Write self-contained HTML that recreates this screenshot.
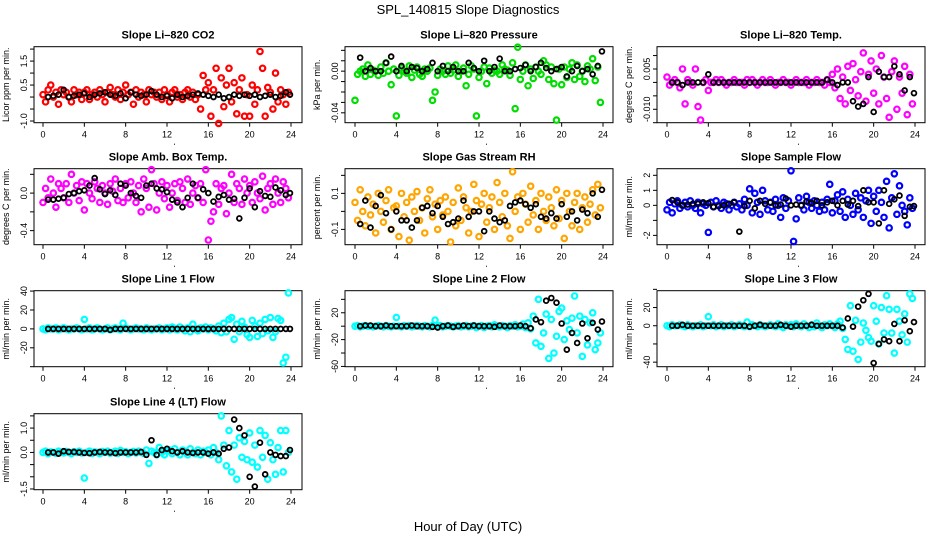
<!DOCTYPE html>
<html><head><meta charset="utf-8"><style>
body{margin:0;background:#fff;}
svg text{font-family:"Liberation Sans",sans-serif;fill:#000;}
</style></head><body>
<svg id="chart" width="936" height="540" viewBox="0 0 936 540" xmlns="http://www.w3.org/2000/svg">
<text x="468" y="14" text-anchor="middle" font-size="13">SPL_140815  Slope Diagnostics</text>
<text x="468" y="531" text-anchor="middle" font-size="13">Hour of Day (UTC)</text>
</svg>
<script>
const colHours=[0,0.25,0.5,0.75,1,1.25,1.5,1.75,2,2.25,2.5,2.75,3,3.25,3.5,3.75,4,4.25,4.5,4.75,5,5.25,5.5,5.75,6,6.25,6.5,6.75,7,7.25,7.5,7.75,8,8.25,8.5,8.75,9,9.25,9.5,9.75,10,10.25,10.5,10.75,11,11.25,11.5,11.75,12,12.25,12.5,12.75,13,13.25,13.5,13.75,14,14.25,14.5,14.75,15,15.25,15.5,15.75,16,16.25,16.5,16.75,17,17.25,17.5,17.75,18,18.25,18.5,18.75,19,19.25,19.5,19.75,20,20.25,20.5,20.75,21,21.25,21.5,21.75,22,22.25,22.5,22.75,23,23.25,23.5,23.75];
const blkHours=[0.5,1,1.5,2,2.5,3,3.5,4,4.5,5,5.5,6,6.5,7,7.5,8,8.5,9,9.5,10,10.5,11,11.5,12,12.5,13,13.5,14,14.5,15,15.5,16,16.5,17,17.5,18,18.5,19,19.5,20,20.5,21,21.5,22,22.5,23,23.5,23.9];
const xTicks=[0,4,8,12,16,20,24];

const co2Col=[0.1,-0.2,0.3,0.5,0.0,0.2,-0.3,0.3,0.1,0.2,0.0,-0.2,0.3,0.1,0.2,-0.1,0.2,0.3,-0.1,0.1,0.2,0.0,0.3,0.1,-0.2,0.2,0.4,0.1,0.0,0.3,-0.1,0.2,0.5,0.1,0.2,-0.3,0.3,0.0,0.2,0.1,-0.2,0.3,0.1,0.2,0.0,0.2,-0.1,0.3,0.1,-0.2,0.2,0.3,0.0,0.1,-0.1,0.2,0.3,0.0,0.2,-0.1,0.1,-0.5,0.9,0.3,0.6,-0.8,0.3,1.2,-1.1,0.8,-0.4,0.5,1.2,-0.2,0.6,-0.7,0.3,0.8,-0.8,0.1,-0.8,0.5,-0.3,0.3,1.9,1.2,-0.8,0.4,0.2,-0.5,1.0,-0.2,0.3,0.1,-0.3,0.2];
const co2Blk=[0.0,0.05,0.1,0.3,0.0,0.05,0.1,0.15,0.0,0.1,0.15,0.2,0.1,0.05,0.15,-0.05,0.2,0.1,0.05,0.1,0.25,0.1,0.0,0.05,-0.05,0.1,0.0,0.05,0.1,0.15,0.1,0.05,0.0,0.1,-0.05,0.0,0.1,0.05,0.1,0.05,0.1,0.0,0.05,0.1,0.0,0.05,0.2,0.1];
const presCol=[-0.028,-0.003,0.0,0.002,-0.005,0.006,-0.003,0.001,0.0,-0.004,0.004,-0.002,0.008,0.0,-0.013,0.002,-0.043,-0.004,0.003,0.0,-0.002,0.005,-0.006,0.001,0.004,-0.003,-0.005,0.002,0.0,0.003,-0.028,-0.020,-0.004,0.002,0.0,-0.003,0.005,-0.002,0.001,0.006,-0.005,0.0,0.003,-0.014,-0.003,0.005,0.002,-0.043,-0.006,0.0,0.004,-0.012,0.003,-0.002,0.001,0.0,-0.003,0.006,0.002,0.001,-0.004,0.008,-0.036,0.023,-0.008,0.0,0.006,-0.014,0.002,-0.007,0.004,0.0,-0.003,0.010,0.006,-0.008,0.004,-0.012,-0.047,0.002,-0.013,0.004,-0.006,0.002,0.008,-0.008,0.006,-0.005,0.0,-0.010,0.005,0.002,0.012,-0.009,0.004,-0.030];
const presBlk=[0.013,0.0,0.003,0.0,0.0,0.008,0.014,0.0,0.005,0.0,0.004,0.003,0.0,0.002,0.008,0.0,0.005,0.0,0.004,0.0,0.0,0.008,0.003,0.0,0.01,0.0,0.004,0.012,0.0,0.0,0.002,0.003,0.006,0.0,0.004,0.008,0.003,0.0,0.002,0.004,-0.005,0.0,0.005,0.0,0.002,-0.003,0.005,0.019];
const tempCol=[0.002,-0.001,0.000,0.001,0.000,-0.002,0.005,-0.008,0.001,0.000,-0.001,0.005,-0.009,-0.014,0.000,0.001,-0.003,0.000,0.000,0.001,0.000,0.001,0.000,-0.001,0.000,0.000,0.001,0.000,0.000,0.000,-0.001,0.001,0.000,0.001,0.000,-0.001,0.000,0.001,0.000,0.000,0.001,0.000,-0.001,0.000,0.000,0.001,0.000,0.000,-0.001,0.000,0.001,0.000,0.000,0.000,0.001,-0.001,0.000,0.000,0.001,0.000,0.000,-0.001,0.001,0.000,0.003,-0.002,0.005,-0.006,0.002,-0.008,0.006,-0.003,0.007,0.001,-0.005,0.004,0.011,-0.007,0.003,0.008,-0.004,0.005,-0.008,0.010,0.002,-0.006,-0.013,0.004,0.008,-0.010,0.002,-0.004,0.006,-0.012,0.003,-0.008];
const tempBlk=[0.000,0.000,-0.001,0.000,0.000,0.000,0.000,0.003,0.000,0.000,0.000,0.000,0.000,0.000,0.000,0.000,0.000,0.000,0.000,0.000,0.000,0.000,0.000,0.000,0.000,0.000,0.000,0.000,0.000,0.000,0.001,0.000,-0.001,0.000,0.000,-0.007,-0.009,-0.008,0.002,-0.011,0.004,0.002,0.002,0.006,0.003,-0.003,0.002,-0.004];
const ambCol=[-0.1,0.05,-0.05,0.15,0.0,-0.15,0.1,0.05,-0.05,0.1,-0.1,0.2,0.0,0.08,-0.08,0.12,-0.18,0.1,0.0,-0.06,0.12,0.05,-0.1,0.08,0.0,-0.12,0.1,0.02,0.15,-0.08,0.05,-0.1,0.1,-0.05,0.12,0.0,-0.1,0.08,-0.2,0.15,0.05,-0.15,0.25,0.1,-0.18,0.0,0.12,-0.06,0.08,-0.15,0.0,0.1,-0.08,0.12,0.05,-0.1,0.15,-0.12,0.0,0.08,-0.05,0.1,-0.1,0.25,-0.5,-0.3,-0.2,0.1,-0.12,0.05,0.08,-0.22,0.0,0.2,-0.1,0.1,0.05,-0.12,0.15,0.0,0.08,-0.1,0.12,0.0,-0.06,0.18,-0.18,0.05,0.1,-0.12,0.15,0.0,-0.1,0.12,0.05,-0.05];
const ambBlk=[-0.07,-0.07,-0.06,-0.05,-0.01,0.0,0.02,0.03,0.08,0.16,0.04,-0.01,0.03,-0.02,0.1,0.08,0.0,-0.03,-0.05,0.08,0.1,0.05,0.04,0.01,-0.07,-0.1,-0.15,-0.05,0.1,-0.05,0.04,0.0,-0.09,-0.04,-0.02,-0.07,-0.06,-0.27,-0.05,0.05,-0.15,0.02,-0.03,-0.04,0.06,0.03,-0.02,0.0];
const rhCol=[0.05,-0.05,0.12,0.0,-0.08,0.08,-0.02,0.04,-0.12,0.1,0.0,-0.06,0.06,0.12,-0.1,0.02,0.03,-0.14,0.1,-0.03,0.05,-0.16,0.08,0.0,0.11,-0.05,0.02,-0.12,0.07,0.12,-0.03,0.04,-0.1,0.06,-0.02,0.08,0.0,-0.17,0.05,-0.08,0.13,-0.05,0.08,0.02,-0.12,0.0,0.15,0.06,-0.14,0.04,0.1,-0.06,0.02,0.08,-0.1,0.16,0.05,-0.03,0.1,-0.08,-0.15,0.22,0.0,0.08,-0.1,0.1,0.04,-0.06,0.14,-0.02,0.06,-0.1,0.1,0.0,-0.05,0.08,0.02,-0.08,0.12,-0.04,0.06,-0.15,0.1,0.0,-0.08,0.05,0.1,-0.1,0.02,0.08,-0.06,0.04,0.12,-0.02,0.15,0.02];
const rhBlk=[-0.07,0.06,-0.09,0.03,0.09,-0.01,-0.1,0.0,-0.05,-0.05,-0.09,-0.05,0.02,0.03,-0.01,0.03,-0.03,-0.07,-0.06,-0.04,0.06,-0.03,0.0,0.0,-0.11,0.0,-0.04,-0.06,-0.05,0.03,0.05,0.06,0.04,0.02,0.04,-0.03,-0.04,-0.01,-0.04,0.04,-0.03,0.0,-0.05,0.01,-0.01,0.1,-0.03,0.12];
const sampCol=[-0.3,0.2,-0.5,0.1,0.3,-0.2,0.0,0.2,-0.1,0.3,0.0,-0.2,0.2,-0.5,0.1,0.0,-1.8,0.2,-0.1,0.3,0.0,-0.2,0.2,0.1,-0.3,0.0,0.2,-0.1,0.1,-0.3,0.4,0.0,1.1,-0.5,0.8,0.2,-0.6,1.0,0.3,-0.3,0.2,-0.4,0.4,0.0,-0.8,0.5,-0.2,0.3,2.3,-2.4,-0.9,0.5,0.0,-0.3,0.6,0.2,-0.2,0.3,0.0,-0.4,0.2,-0.3,0.4,1.4,-0.5,0.3,0.7,-0.4,0.9,-0.8,0.4,0.0,-0.6,0.8,-0.3,0.5,-0.8,0.3,1.0,-1.2,0.6,-0.4,1.0,0.2,-0.8,1.6,-1.5,0.5,2.1,-0.6,1.3,0.0,-0.4,-1.3,0.5,-0.2];
const sampBlk=[0.35,0.2,0.0,0.05,0.1,0.1,0.2,0.15,-0.1,-0.05,0.0,0.1,0.2,-1.75,-0.05,0.3,-0.2,0.3,0.1,0.2,0.0,0.05,0.45,0.0,0.05,0.0,0.25,0.15,0.3,0.0,0.2,0.3,0.0,0.3,0.05,0.3,-0.05,1.0,0.2,0.2,-1.2,1.0,0.1,0.4,0.65,-0.7,-0.1,-0.05];
const l1Col=[0,-1,1,0,0,1,-1,0,1,0,-1,0,0,1,0,-1,10,0,1,-1,0,1,0,-1,0,1,-1,0,1,0,-1,6,1,0,-1,0,1,0,0,-1,1,0,-1,0,0,1,-1,0,1,-1,2,0,-1,2,0,-2,1,-3,5,0,-2,1,0,2,-1,1,0,-2,3,-4,6,-3,10,12,-11,5,-3,8,2,-6,-9,9,3,-8,6,-5,10,-2,12,-9,-3,11,9,-36,-30,38];
const l1Blk=[0,0,0,0,0,0,0,0,0,0,0,0,-1,0,0,0,0,0,0,0,0,0,0,0,0,0,0,0,0,0,0,0,0,0,0,0,0,0,0,0,0,0,0,0,0,0,0,0];
const l2Col=[0,1,-1,0,1,0,0,-1,0,1,0,-1,1,0,-1,0,13,0,-1,1,0,1,-1,0,1,0,-1,1,0,-1,1,9,0,1,-1,0,1,0,-1,0,1,-1,0,1,-1,0,1,-2,0,1,-2,0,1,-1,2,0,-1,1,0,-2,1,0,2,-1,0,3,-2,5,-4,15,-25,40,-30,-10,18,-48,10,-40,-15,22,27,-20,8,-5,12,45,-10,15,-45,10,-28,5,20,-35,-25,-10];
const l2Blk=[0,1,1,0,0,1,0,0,0,0,1,0,0,0,-1,-2,0,1,-1,0,1,0,1,0,0,0,-1,1,0,0,0,1,0,-3,10,6,38,42,35,4,-35,-10,-25,4,-18,5,-5,7];
const l3Col=[0,-1,1,0,0,1,0,-1,1,0,-1,0,0,1,-1,0,10,0,1,-1,0,1,-1,0,0,1,-1,0,1,0,-1,4,-1,1,0,-1,1,0,-1,0,1,0,-1,2,0,-2,1,0,1,-1,2,0,-1,2,0,-2,1,-1,3,0,-2,1,0,2,0,-2,2,5,-3,-15,-26,22,-28,6,-37,-18,3,-5,-13,-17,22,5,-20,20,-8,33,18,-8,-30,18,5,-10,13,-18,35,30];
const l3Blk=[0,0,1,0,0,0,0,0,0,0,0,0,0,0,0,-1,0,1,0,0,0,1,0,-1,0,0,0,1,0,0,0,0,0,-2,8,-1,21,28,35,-41,-20,-15,-17,2,-17,6,-6,4];
const l4Col=[0.0,0.05,-0.05,0.02,0.0,-0.03,0.05,0.0,-0.02,0.04,0.0,-0.05,0.03,0.0,0.05,-0.02,-1.05,0.0,0.05,-0.04,0.02,0.0,-0.05,0.04,0.0,0.05,-0.03,0.0,0.05,-0.04,0.08,0.0,0.03,-0.05,0.0,0.04,-0.02,0.05,0.0,-0.04,0.1,-0.45,0.05,0.0,-0.1,0.2,0.0,-0.1,0.05,0.1,-0.05,0.15,0.0,-0.1,0.1,0.05,-0.1,0.15,0.0,-0.05,0.1,-0.1,0.05,0.0,0.1,-0.1,0.2,0.0,-0.3,1.5,0.3,-0.55,0.9,-0.8,0.3,-1.1,0.6,-0.2,0.45,-0.3,0.8,-0.4,0.3,-0.6,0.9,-0.2,0.7,-1.1,0.4,-0.3,-0.9,0.2,0.9,-0.8,0.9,0.0];
const l4Blk=[0.0,0.0,-0.05,0.05,0.02,0.02,0.0,-0.02,-0.03,0.0,0.02,0.0,0.0,-0.03,0.0,0.0,0.0,0.0,0.02,-0.1,0.5,-0.1,0.1,0.15,0.05,0.0,0.05,0.0,-0.02,0.0,0.0,-0.05,0.0,-0.05,0.15,0.2,1.35,1.0,0.7,-1.0,-1.4,0.4,-0.9,0.0,-0.1,-0.15,-0.15,0.1];

const panels=[
 {name:'co2',title:'Slope Li\u2013820 CO2',ylab:'Licor ppm per min.',col:'#ff0000',c:co2Col,b:co2Blk,y0:-1.07,y1:2.1,ticks:[-1,-0.5,0,0.5,1,1.5,2],labels:{'-1':'-1.0','0.5':'0.5','1.5':'1.5'}},
 {name:'pressure',title:'Slope Li\u2013820 Pressure',ylab:'kPa per min.',col:'#00dd00',c:presCol,b:presBlk,y0:-0.0495,y1:0.0235,ticks:[0.02,0.01,0,-0.01,-0.02,-0.03,-0.04],labels:{'0':'0.00','-0.04':'-0.04'}},
 {name:'li820-temp',title:'Slope Li\u2013820 Temp.',ylab:'degrees C per min.',col:'#ff00ff',c:tempCol,b:tempBlk,y0:-0.015,y1:0.0133,ticks:[0.01,0.005,0,-0.005,-0.01,-0.015],labels:{'0.005':'0.005','-0.01':'-0.010'}},
 {name:'amb-box-temp',title:'Slope Amb. Box Temp.',ylab:'degrees C per min.',col:'#ff00ff',c:ambCol,b:ambBlk,y0:-0.55,y1:0.26,ticks:[0.2,0,-0.2,-0.4],labels:{'0':'0.0','-0.4':'-0.4'}},
 {name:'gas-stream-rh',title:'Slope Gas Stream RH',ylab:'percent per min.',col:'#ffa500',c:rhCol,b:rhBlk,y0:-0.185,y1:0.237,ticks:[0.2,0.1,0,-0.1],labels:{'0.1':'0.1','-0.1':'-0.1'}},
 {name:'sample-flow',title:'Slope Sample Flow',ylab:'ml/min per min.',col:'#0000ff',c:sampCol,b:sampBlk,y0:-2.62,y1:2.44,ticks:[2,1,0,-1,-2],labels:{'2':'2','1':'1','0':'0','-2':'-2'}},
 {name:'line1-flow',title:'Slope Line 1 Flow',ylab:'ml/min per min.',col:'#00ffff',c:l1Col,b:l1Blk,y0:-40,y1:40.4,ticks:[40,20,0,-20,-40],labels:{'40':'40','20':'20','0':'0','-20':'-20'}},
 {name:'line2-flow',title:'Slope Line 2 Flow',ylab:'ml/min per min.',col:'#00ffff',c:l2Col,b:l2Blk,y0:-60.4,y1:52.9,ticks:[40,20,0,-20,-40,-60],labels:{'20':'20','-20':'-20','-60':'-60'}},
 {name:'line3-flow',title:'Slope Line 3 Flow',ylab:'ml/min per min.',col:'#00ffff',c:l3Col,b:l3Blk,y0:-45,y1:38.5,ticks:[40,20,0,-20,-40],labels:{'20':'20','0':'0','-40':'-40'}},
 {name:'line4-lt-flow',title:'Slope Line 4 (LT) Flow',ylab:'ml/min per min.',col:'#00ffff',c:l4Col,b:l4Blk,y0:-1.53,y1:1.59,ticks:[1.5,1,0.5,0,-0.5,-1,-1.5],labels:{'1':'1.0','0':'0.0','-1.5':'-1.5'}}
];
const NS='http://www.w3.org/2000/svg';
const svg=document.getElementById('chart');
function mk(tag,attrs,parent){const e=document.createElementNS(NS,tag);for(const k in attrs)e.setAttribute(k,attrs[k]);parent.appendChild(e);return e;}
const colL=[34,345,657], colX0=[43,355,667], rowT=[46.7,168.7,290.7,413.7];
const BW=268, BH=76, HPX=10.333;
panels.forEach((p,i)=>{
 const r=Math.floor(i/3), c=i%3;
 const L=colL[c], T=rowT[r], X0=colX0[c];
 const g=mk('g',{},svg);
 
 
 const xs=h=>X0+h*HPX;
 const ys=v=>T+BH-(v-p.y0)/(p.y1-p.y0)*BH;
 const t=mk('text',{x:L+BW/2,y:T-8,'text-anchor':'middle','font-size':'11','font-weight':'bold'},g);
 t.textContent=p.title;
 
 
 const yl=mk('text',{x:0,y:0,transform:`translate(${L-25},${T+BH/2}) rotate(-90)`,'text-anchor':'middle','font-size':'9'},g);
 yl.textContent=p.ylab;
 
 
 const box=mk('rect',{x:L,y:T,width:BW,height:BH,fill:'none',stroke:'#000','stroke-width':1},g);
 
 
 xTicks.forEach(h=>{
  mk('line',{x1:xs(h),x2:xs(h),y1:T+BH,y2:T+BH+4,stroke:'#000'},g);
  const tl=mk('text',{x:xs(h),y:T+BH+15,'text-anchor':'middle','font-size':'9'},g);
  tl.textContent=h;
  
  
 });
 mk('rect',{x:xs(12)+7,y:T+BH+21,width:1,height:1,fill:'#000'},g);
 p.ticks.forEach(v=>{
  const y=ys(v);
  mk('line',{x1:L-4,x2:L,y1:y,y2:y,stroke:'#000'},g);
  const lab=p.labels[String(v)];
  if(lab!==undefined){
   const tl=mk('text',{x:0,y:0,transform:`translate(${L-7},${y}) rotate(-90)`,'text-anchor':'middle','font-size':'9'},g);
   tl.textContent=lab;
   
   
  }
 });
 const cg=mk('g',{fill:'none',stroke:p.col,'stroke-width':2.2},g);
 
 
 p.c.forEach((v,k)=>{
  const pt=mk('circle',{cx:xs(colHours[k]),cy:ys(v),r:2.7},cg);
  
  
 });
 const bg=mk('g',{fill:'none',stroke:'#000','stroke-width':1.8},g);
 
 
 p.b.forEach((v,k)=>{
  const pt=mk('circle',{cx:xs(blkHours[k]),cy:ys(v),r:2.4},bg);
  
  
 });
});
</script>
</body></html>
